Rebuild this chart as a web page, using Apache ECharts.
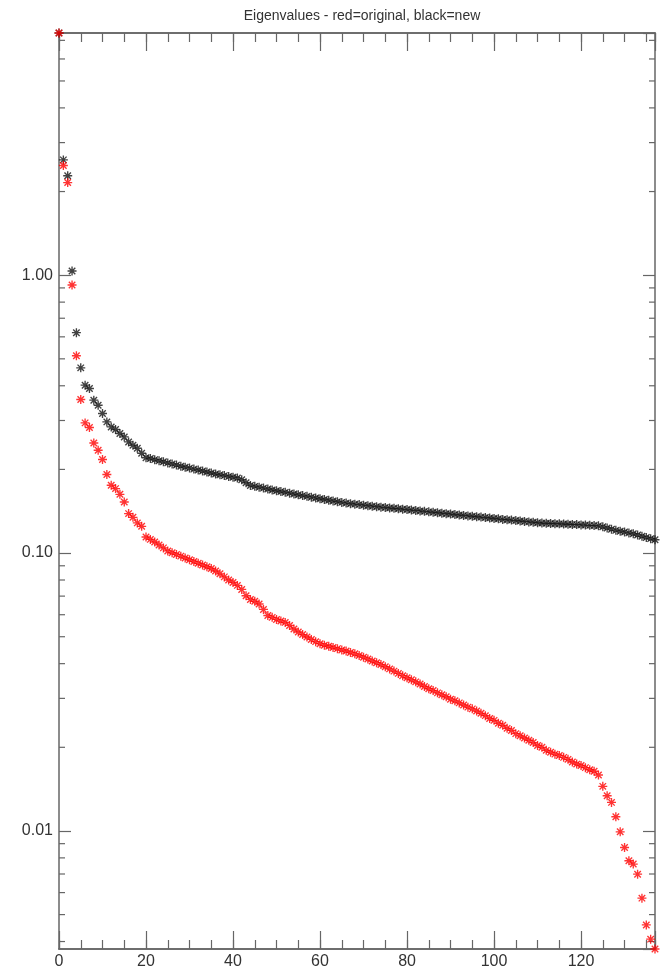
<!DOCTYPE html>
<html>
<head>
<meta charset="utf-8">
<script src="https://cdn.jsdelivr.net/npm/echarts@6/dist/echarts.min.js"></script>
<style>
html,body{margin:0;padding:0;background:#fff;}
#chart{width:660px;height:973px;}
</style>
</head>
<body>
<div id="chart"></div>
<script>
// ---- data ----
const titleText = 'Eigenvalues - red=original, black=new';
const xMin = 0, xMax = 137;
const yMin = 0.00376, yMax = 7.44;
const xMajorStep = 20, xMinorStep = 5;

const blackValues = [7.44, 2.60, 2.28, 1.035, 0.621, 0.464, 0.402, 0.391, 0.355, 0.3405,
  0.318, 0.2965, 0.2844, 0.2784, 0.2693, 0.2618, 0.2512, 0.2444, 0.2384, 0.2287,
  0.2203, 0.2189, 0.2169, 0.2149, 0.2130, 0.2111, 0.2092, 0.2073, 0.2054, 0.2037,
  0.2022, 0.2005, 0.1990, 0.1974, 0.1958, 0.1942, 0.1926, 0.1913, 0.1900, 0.1887,
  0.1875, 0.1862, 0.1836, 0.1791, 0.1751, 0.1738, 0.1725, 0.1713, 0.1700, 0.1687,
  0.1676, 0.1665, 0.1654, 0.1643, 0.1632, 0.1621, 0.1610, 0.1600, 0.1589, 0.1579,
  0.1568, 0.1559, 0.1550, 0.1540, 0.1531, 0.1522, 0.1513, 0.1506, 0.1500, 0.1494,
  0.1487, 0.1481, 0.1475, 0.1469, 0.1463, 0.1458, 0.1453, 0.1449, 0.1444, 0.1439,
  0.1434, 0.1428, 0.1424, 0.1418, 0.1413, 0.1407, 0.1403, 0.1397, 0.1392, 0.1386,
  0.1382, 0.1376, 0.1371, 0.1366, 0.1361, 0.1357, 0.1351, 0.1347, 0.1342, 0.1337,
  0.1332, 0.1328, 0.1322, 0.1318, 0.1314, 0.1309, 0.1304, 0.1300, 0.1295, 0.1291,
  0.1286, 0.1282, 0.1280, 0.1278, 0.1276, 0.1274, 0.1272, 0.1270, 0.1268, 0.1266,
  0.1263, 0.1261, 0.1258, 0.1256, 0.1253, 0.1243, 0.1231, 0.1219, 0.1207, 0.1198,
  0.1190, 0.1182, 0.1174, 0.1162, 0.1149, 0.1138, 0.1127, 0.1117];

const redValues = [7.44, 2.481, 2.154, 0.922, 0.5128, 0.357, 0.2941, 0.2830, 0.2490, 0.2345,
  0.2171, 0.1917, 0.1754, 0.1706, 0.1627, 0.1527, 0.1387, 0.1345, 0.1284, 0.1248,
  0.1142, 0.1120, 0.1096, 0.1070, 0.1044, 0.1018, 0.1003, 0.0989, 0.0975, 0.0960,
  0.0946, 0.0933, 0.0919, 0.0906, 0.0893, 0.0880, 0.0862, 0.0842, 0.0821, 0.0800,
  0.0784, 0.0765, 0.0740, 0.0702, 0.0681, 0.0671, 0.0656, 0.0627, 0.0596, 0.0587,
  0.0577, 0.0570, 0.0563, 0.0549, 0.0533, 0.0520, 0.0509, 0.0499, 0.0489, 0.0480,
  0.0472, 0.0466, 0.0462, 0.0457, 0.0453, 0.0448, 0.0444, 0.0439, 0.0434, 0.0428,
  0.0422, 0.0416, 0.0409, 0.0403, 0.0397, 0.0390, 0.0383, 0.0376, 0.0369, 0.0362,
  0.0356, 0.0350, 0.0344, 0.0338, 0.0331, 0.0325, 0.0320, 0.0314, 0.0309, 0.0304,
  0.0298, 0.0294, 0.0289, 0.0284, 0.0279, 0.0275, 0.0270, 0.0265, 0.0260, 0.0254,
  0.0250, 0.0244, 0.0240, 0.0234, 0.0230, 0.0224, 0.0220, 0.0216, 0.0212, 0.0208,
  0.0203, 0.0200, 0.0195, 0.0192, 0.0189, 0.0187, 0.0184, 0.0181, 0.0177, 0.0174,
  0.0172, 0.0169, 0.0166, 0.0164, 0.0159, 0.01447, 0.01339, 0.01267, 0.01125, 0.00993,
  0.00872, 0.00781, 0.00760, 0.00699, 0.00573, 0.00459, 0.00408, 0.00376];

const yMinorTicks = [0.004, 0.005, 0.006, 0.007, 0.008, 0.009,
  0.02, 0.03, 0.04, 0.05, 0.06, 0.07, 0.08, 0.09,
  0.2, 0.3, 0.4, 0.5, 0.6, 0.7, 0.8, 0.9,
  2, 3, 4, 5, 6, 7];

// ---- styling ----
const axisColor = '#666';
const textColor = '#333';
const fontFamily = '"Liberation Sans", Arial, Helvetica, sans-serif';
const asterisk = 'path://M5,0L5,10M0,5L10,5M1.4,1.4L8.6,8.6M1.4,8.6L8.6,1.4';

const chart = echarts.init(document.getElementById('chart'), null, {renderer: 'canvas'});

function xAxisDef(position, step, tickLen, showLabel) {
  return {
    type: 'value', position: position, min: xMin, max: xMax, interval: step,
    axisLine: {show: true, onZero: false, lineStyle: {color: axisColor, width: 1.5}},
    axisTick: {show: true, inside: true, length: tickLen, lineStyle: {color: axisColor, width: 1.2}},
    axisLabel: {show: showLabel, color: textColor, fontSize: 16, fontFamily: fontFamily, margin: 5,
      formatter: function (v) { return (v % xMajorStep === 0) ? String(v) : ''; }},
    splitLine: {show: false}
  };
}
function isDecade(v) {
  const l = Math.log10(v);
  return Math.abs(l - Math.round(l)) < 1e-6;
}
function yAxisDef(position, showLabel) {
  return {
    type: 'log', logBase: 10, position: position, min: yMin, max: yMax,
    axisLine: {show: true, onZero: false, lineStyle: {color: axisColor, width: 1.5}},
    axisTick: {show: true, inside: true, length: 12, lineStyle: {color: axisColor, width: 1.2}},
    axisLabel: {show: showLabel, color: textColor, fontSize: 16, fontFamily: fontFamily, margin: 6,
      showMinLabel: false, showMaxLabel: false,
      formatter: function (v) { return isDecade(v) ? v.toFixed(2) : ''; }},
    splitLine: {show: false}, minorTick: {show: false}
  };
}

const option = {
  backgroundColor: '#fff',
  animation: false,
  title: {
    text: titleText, left: 357, top: 4, textAlign: 'center',
    textStyle: {fontSize: 14, fontWeight: 'normal', color: textColor, fontFamily: fontFamily}
  },
  grid: {left: 59, top: 33, width: 596, height: 916, containLabel: false},
  xAxis: [
    xAxisDef('bottom', xMajorStep, 18, true),
    xAxisDef('bottom', xMinorStep, 9, false),
    xAxisDef('top', xMajorStep, 18, false),
    xAxisDef('top', xMinorStep, 9, false)
  ],
  yAxis: [
    yAxisDef('left', true),
    yAxisDef('right', false)
  ],
  series: [
    {
      type: 'custom', name: 'yMinor', xAxisIndex: 0, yAxisIndex: 0, silent: true, z: 1,
      data: yMinorTicks.map(function (v) { return [xMin, v]; }),
      encode: {x: 0, y: 1},
      renderItem: function (params, api) {
        const v = api.value(1);
        const pL = api.coord([xMin, v]);
        const pR = api.coord([xMax, v]);
        const st = {stroke: axisColor, lineWidth: 1.2};
        return {type: 'group', children: [
          {type: 'line', shape: {x1: pL[0], y1: pL[1], x2: pL[0] + 6, y2: pL[1]}, style: st},
          {type: 'line', shape: {x1: pR[0], y1: pR[1], x2: pR[0] - 6, y2: pR[1]}, style: st}
        ]};
      }
    },
    {
      type: 'scatter', name: 'new', xAxisIndex: 0, yAxisIndex: 0, z: 3,
      symbol: asterisk, symbolSize: 9,
      itemStyle: {color: 'transparent', borderColor: '#111', borderWidth: 1.35},
      data: blackValues.map(function (v, i) { return [i, v]; })
    },
    {
      type: 'scatter', name: 'original', xAxisIndex: 0, yAxisIndex: 0, z: 4,
      symbol: asterisk, symbolSize: 9,
      itemStyle: {color: 'transparent', borderColor: '#ff0000', borderWidth: 1.35},
      data: redValues.map(function (v, i) { return [i, v]; })
    }
  ]
};
chart.setOption(option);
</script>
</body>
</html>
